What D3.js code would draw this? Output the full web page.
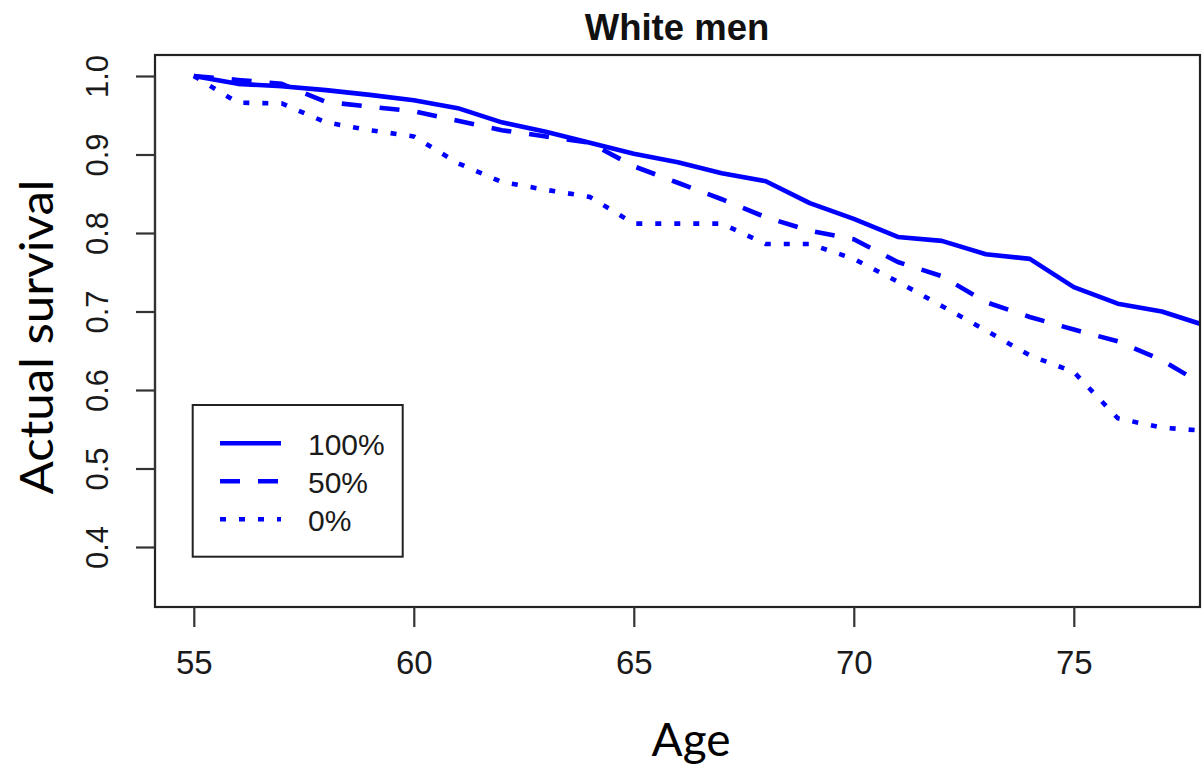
<!DOCTYPE html>
<html><head><meta charset="utf-8">
<script src="https://cdn.jsdelivr.net/npm/d3@7"></script>
<style>html,body{margin:0;padding:0;background:#fff;}svg{display:block;}</style>
</head><body>
<svg id="chart" width="1202" height="766"></svg>
<script>
const ages = [55,56,57,58,59,60,61,62,63,64,65,66,67,68,69,70,71,72,73,74,75,76,77,78];
const s100 = [1.000,0.990,0.987,0.982,0.976,0.969,0.959,0.941,0.929,0.915,0.901,0.890,0.876,0.866,0.838,0.818,0.795,0.790,0.773,0.767,0.731,0.710,0.700,0.682];
const s50  = [1.000,0.995,0.990,0.967,0.961,0.955,0.943,0.931,0.923,0.915,0.885,0.864,0.843,0.820,0.803,0.792,0.763,0.745,0.712,0.693,0.677,0.662,0.638,0.605];
const s0   = [1.000,0.966,0.965,0.941,0.931,0.923,0.889,0.865,0.855,0.846,0.812,0.812,0.812,0.786,0.786,0.767,0.738,0.707,0.676,0.644,0.623,0.564,0.552,0.548];
const xTicks = [55,60,65,70,75];
const yTicks = [0.4,0.5,0.6,0.7,0.8,0.9,1.0];
const seriesNames = ["100%","50%","0%"];
const seriesData = [s100,s50,s0];
const dashes = [null,"20,18","6,13"];

const svg = d3.select("#chart");
const L=155,R=1200,T=55,B=607;
const x = d3.scaleLinear().domain([55,75]).range([193.8,1073.8]);
const y = d3.scaleLinear().domain([0.4,1.0]).range([547,76]);

svg.append("defs").append("clipPath").attr("id","clip")
  .append("rect").attr("x",L).attr("y",T).attr("width",R-L).attr("height",B-T);

const line = d3.line().x((d,i)=>x(ages[i])).y(d=>y(d));
const g = svg.append("g").attr("clip-path","url(#clip)");
seriesData.forEach((s,k)=>{
  const p = g.append("path").datum(s).attr("d",line)
    .attr("fill","none").attr("stroke","#0000ff").attr("stroke-width",4.6)
    .attr("stroke-linejoin","round");
  if(dashes[k]) p.attr("stroke-dasharray",dashes[k]);
});

svg.append("rect").attr("x",L).attr("y",T).attr("width",R-L).attr("height",B-T)
  .attr("fill","none").attr("stroke","#222").attr("stroke-width",2.2);

const xAxis = d3.axisBottom(x).tickValues(xTicks).tickSize(20).tickPadding(24).tickFormat(d3.format("d"));
const gx = svg.append("g").attr("transform",`translate(0,${B})`).call(xAxis);
gx.select(".domain").remove();
gx.selectAll(".tick line").attr("stroke","#333").attr("stroke-width",2.2);
gx.selectAll(".tick text").attr("font-family","'Liberation Sans', Arial, sans-serif")
  .attr("font-size",33).attr("fill","#1a1a1a");

const yAxis = d3.axisLeft(y).tickValues(yTicks).tickSize(19).tickPadding(12).tickFormat(d3.format(".1f"));
const gy = svg.append("g").attr("transform",`translate(${L},0)`).call(yAxis);
gy.select(".domain").attr("stroke","#333").attr("stroke-width",2.2).attr("d",`M0,${y(0.4)}V${y(1.0)}`);
gy.selectAll(".tick line").attr("stroke","#333").attr("stroke-width",2.2);
gy.selectAll(".tick text")
  .attr("font-family","'Liberation Sans', Arial, sans-serif").attr("font-size",31).attr("fill","#1a1a1a")
  .attr("x",null).attr("dy",null)
  .attr("transform","translate(-47,0) rotate(-90)")
  .attr("text-anchor","middle");

svg.append("text").attr("x",677).attr("y",40).attr("text-anchor","middle")
  .attr("font-family","'Liberation Sans', Arial, sans-serif").attr("font-weight","bold")
  .attr("font-size",36.5).attr("fill","#111").text("White men");

svg.append("text").attr("transform","translate(53,337) rotate(-90)").attr("text-anchor","middle")
  .attr("font-family","Lato, 'Open Sans', sans-serif").attr("font-size",46).attr("fill","#000")
  .attr("textLength",315).attr("lengthAdjust","spacingAndGlyphs").text("Actual survival");
svg.append("text").attr("x",691).attr("y",756).attr("text-anchor","middle")
  .attr("font-family","Lato, 'Open Sans', sans-serif").attr("font-size",46).attr("fill","#000")
  .text("Age");

const lg = svg.append("g");
lg.append("rect").attr("x",192.7).attr("y",405).attr("width",210).attr("height",151.7)
  .attr("fill","#fff").attr("stroke","#222").attr("stroke-width",2);
seriesNames.forEach((n,k)=>{
  const yy = 443.3 + k*38;
  const ln = lg.append("line").attr("x1",220).attr("x2",281).attr("y1",yy).attr("y2",yy)
    .attr("stroke","#0000ff").attr("stroke-width",4.6);
  if(dashes[k]) ln.attr("stroke-dasharray",dashes[k]);
  lg.append("text").attr("x",308).attr("y",yy+11.5)
    .attr("font-family","'Liberation Sans', Arial, sans-serif").attr("font-size",30).attr("fill","#1a1a1a").text(n);
});
</script>
</body></html>
